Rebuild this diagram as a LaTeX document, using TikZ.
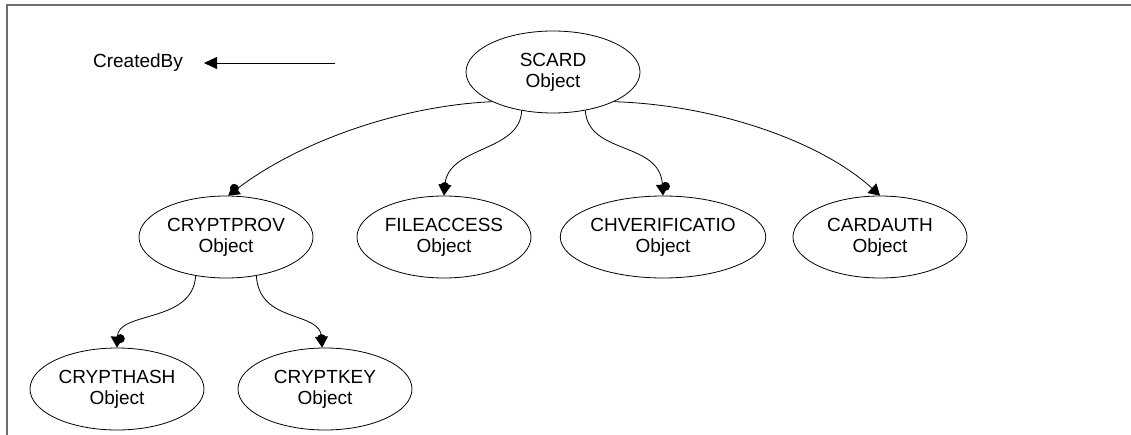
\documentclass[tikz,border=0pt]{standalone}
\usepackage{fontspec}
\setmainfont{Liberation Sans}
\usetikzlibrary{shapes.geometric,arrows.meta,decorations.markings}

\definecolor{framegray}{HTML}{6E6E6E}

\tikzset{
  obj/.style={ellipse, draw, line width=0.8pt, minimum width=174pt,
    minimum height=82pt, inner sep=0pt, align=center,
    font=\fontsize{19}{21}\selectfont},
  plainrel/.style={line width=0.8pt, -{Triangle[length=11pt,width=13pt]}},
  % relation with the round blob sitting on the arrow head
  rel/.style={plainrel,
    postaction={decorate, decoration={markings,
      mark=at position 0.999 with {\fill (-9pt,#1) circle (4.5pt);}}}},
  rel/.default=0pt,
  legendarrow/.style={line width=0.8pt, -{Triangle[length=13pt,width=12pt]}},
  frameline/.style={draw=framegray, line width=1.6pt},
}

\begin{document}
\begin{tikzpicture}[x=1pt, y=-1pt]
\useasboundingbox (0,0) rectangle (1131,435);

% open frame along the top and left
\draw[frameline] (7,435) -- (7,5) -- (1131,5);

% legend
\node[font=\fontsize{19}{21}\selectfont] (legend) at (138,63) {CreatedBy};
\coordinate (legA) at (335,63);
\coordinate (legB) at (204,63);
\draw[legendarrow] (legA) -- (legB);

% objects
\node[obj] (scard) at (553,72)  {SCARD\\Object};
\node[obj] (prov)  at (226,237) {CRYPTPROV\\Object};
\node[obj] (file)  at (444,237) {FILEACCESS\\Object};
\node[obj] (chv)   at (663,237) {CHVERIFICATIO\\Object};
\node[obj] (auth)  at (880,237) {CARDAUTH\\Object};
\node[obj] (hash)  at (117,389) {CRYPTHASH\\Object};
\node[obj] (key)   at (325,389) {CRYPTKEY\\Object};

% creation relations
\draw[rel=-2pt] (scard.206) .. controls +(-90,4) and +(72,-55) .. (prov.87);
\draw[rel] (scard.231) .. controls +(-2,42) and +(4,-50) .. (file.90);
\draw[rel=3pt] (scard.310) .. controls +(3,45) and +(-3,-55) .. (chv.90);
\draw[plainrel] (scard.334) .. controls +(100,3) and +(-60,-55) .. (auth.90);
\draw[rel=3pt] (prov.232) .. controls +(-3,48) and +(1,-37) .. (hash.90);
\draw[rel] (prov.308) .. controls +(3,48) and +(-2,-37) .. (key.94);
\end{tikzpicture}
\end{document}
